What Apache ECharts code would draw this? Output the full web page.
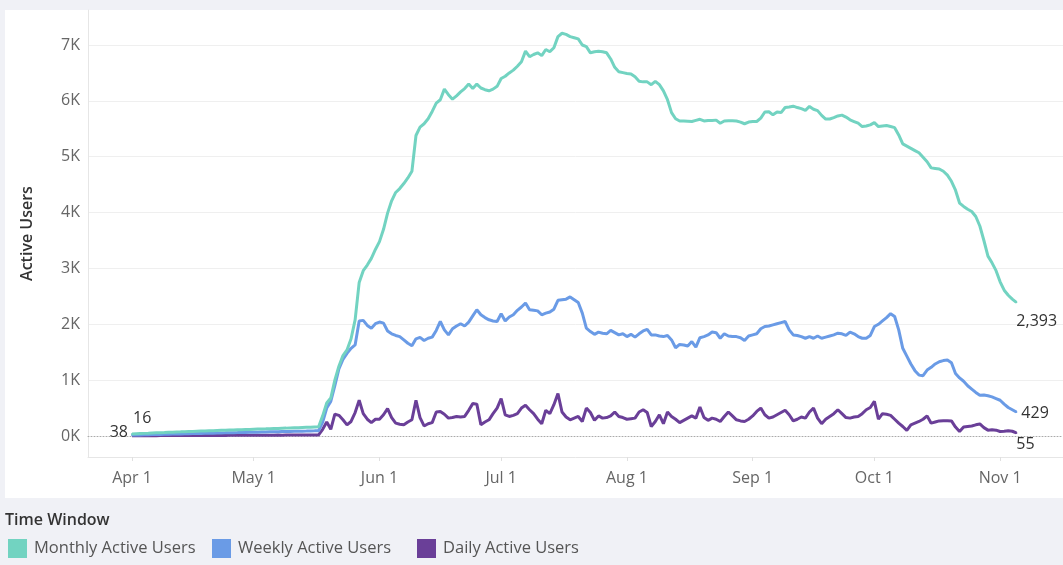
<!DOCTYPE html>
<html>
<head>
<meta charset="utf-8">
<title>Active Users</title>
<script src="https://cdn.jsdelivr.net/npm/echarts@6.0.0/dist/echarts.min.js"></script>
<style>
  html, body { margin: 0; padding: 0; background: #f0f1f6; }
  #chart { width: 1063px; height: 565px; }
</style>
</head>
<body>
<div id="chart"></div>
<script>
// x is the day number, 0 = Apr 1 ... 218 = Nov 5
const monthDays = [0, 30, 61, 91, 122, 153, 183, 214];
const monthLabels = ['Apr 1', 'May 1', 'Jun 1', 'Jul 1', 'Aug 1', 'Sep 1', 'Oct 1', 'Nov 1'];
const seriesNames = ['Monthly Active Users', 'Weekly Active Users', 'Daily Active Users'];

const monthly = [
  38, 41, 44, 47, 50, 54, 57, 59, 62, 66,
  69, 72, 74, 77, 80, 82, 85, 88, 90, 93,
  95, 98, 101, 103, 106, 108, 111, 114, 116, 118,
  121, 124, 126, 128, 131, 134, 136, 139, 141, 144,
  147, 149, 152, 155, 158, 162, 166,
  360, 590, 680, 1000, 1250, 1440, 1540, 1740, 2080, 2750,
  2960, 3060, 3180, 3340, 3480, 3700, 3990, 4210, 4360, 4430,
  4520, 4620, 4740, 5380, 5530, 5590, 5680, 5810, 5960, 6020,
  6210, 6110, 6030, 6090, 6160, 6220, 6300, 6220, 6300, 6230,
  6200, 6180, 6210, 6260, 6400, 6440, 6500, 6550, 6620, 6700,
  6890, 6790, 6830, 6860, 6810, 6920, 6880, 6950, 7150, 7210,
  7190, 7150, 7130, 7110, 7000, 6970, 6860, 6880, 6890, 6880,
  6860, 6750, 6600, 6520, 6505, 6490, 6480, 6430, 6350, 6340,
  6340, 6290, 6350, 6290, 6180, 6020, 5790, 5680, 5640, 5640,
  5635, 5630, 5650, 5670, 5640, 5650, 5650, 5655, 5600, 5640,
  5645, 5645, 5640, 5620, 5590, 5620, 5630, 5630, 5690, 5800,
  5805, 5750, 5800, 5790, 5880, 5890, 5905, 5880, 5860, 5830,
  5900, 5850, 5825, 5740, 5675, 5675, 5700, 5730, 5745, 5710,
  5660, 5630, 5600, 5540, 5550, 5570, 5610, 5540, 5550, 5560,
  5540, 5520, 5390, 5230, 5190, 5150, 5110, 5070, 4990, 4910,
  4800, 4790, 4780, 4740, 4670, 4560, 4400, 4170, 4110, 4060,
  4020, 3930, 3760, 3500, 3220, 3100, 2960, 2760, 2610, 2520,
  2450, 2393
];

const weekly = [
  16, 18, 20, 22, 24, 26, 27, 29, 31, 33,
  35, 36, 38, 40, 41, 43, 45, 46, 48, 50,
  51, 53, 55, 56, 58, 60, 61, 63, 64, 66,
  68, 69, 71, 72, 74, 76, 77, 79, 80, 82,
  84, 85, 87, 88, 90, 92, 95,
  250, 500, 620, 900, 1200, 1370, 1480, 1570, 1630, 2060,
  2070, 1980, 1930, 2010, 2040, 2020, 1880, 1830, 1800, 1780,
  1720, 1660, 1615, 1740, 1765, 1710, 1750, 1770, 1890, 2050,
  1900, 1810, 1920, 1970, 2010, 1970, 2040, 2150, 2260, 2170,
  2120, 2080, 2060, 2050, 2190, 2060, 2130, 2170, 2250, 2310,
  2380, 2260, 2250, 2240, 2170, 2200, 2220, 2270, 2430, 2440,
  2450, 2490, 2440, 2390, 2200, 1930, 1870, 1820, 1860, 1840,
  1830, 1890, 1850, 1810, 1830, 1780, 1820, 1770, 1830, 1880,
  1910, 1810, 1810, 1790, 1780, 1800, 1720, 1580, 1640, 1630,
  1610, 1690, 1590, 1760, 1780, 1810, 1860, 1850, 1750, 1830,
  1790, 1780, 1780, 1760, 1710, 1790, 1810, 1830, 1920, 1960,
  1970, 1990, 2010, 2030, 2050, 1900, 1810, 1800, 1780, 1750,
  1780, 1750, 1790, 1750, 1770, 1790, 1810, 1840, 1830, 1800,
  1860, 1830, 1780, 1750, 1750, 1800, 1960, 2000, 2060, 2120,
  2190, 2140, 1900, 1570, 1430, 1290, 1170, 1090, 1080, 1180,
  1230, 1290, 1330, 1350, 1360, 1310, 1120, 1040, 980, 900,
  840, 780, 730, 735, 720, 700, 670, 640, 570, 510,
  470, 429
];

const daily = [
  4, 5, 5, 6, 6, 7, 6, 7, 8, 7,
  8, 8, 9, 8, 9, 10, 9, 10, 11, 10,
  11, 11, 12, 11, 12, 13, 12, 13, 13, 14,
  13, 14, 15, 14, 15, 15, 16, 15, 16, 17,
  16, 17, 17, 18, 17, 18, 20,
  120, 250, 120, 390, 370, 290, 200, 260, 420, 640,
  400, 300, 240, 300, 300, 380, 490, 330, 230, 210,
  200, 250, 290, 640, 330, 180, 220, 240, 430, 440,
  390, 320, 330, 350, 340, 350, 460, 580, 570, 200,
  250, 290, 400, 500, 670, 380, 350, 370, 400, 500,
  550, 470, 400, 300, 220, 460, 400, 560, 760, 430,
  340, 290, 320, 350, 260, 500, 420, 280, 360, 320,
  330, 360, 430, 350, 330, 300, 310, 320, 430, 470,
  420, 170, 260, 380, 220, 430, 350, 300, 240, 280,
  320, 360, 320, 520, 330, 280, 320, 300, 260, 350,
  430, 360, 290, 270, 260, 300, 360, 440, 500, 380,
  320, 340, 380, 420, 460, 380, 270, 300, 340, 320,
  430, 500, 320, 220, 300, 350, 400, 470, 400, 330,
  320, 340, 350, 400, 470, 510, 620, 300, 400, 390,
  370, 300, 230, 170, 100, 200, 230, 260, 300, 360,
  230, 250, 270, 275, 275, 270, 160, 80, 160, 170,
  180, 200, 215, 150, 105, 110, 105, 80, 85, 95,
  85, 55
];

const colors = { monthly: '#72d3c1', weekly: '#6a9be6', daily: '#6a3f98' };
const font = '"Open Sans", "Noto Sans", sans-serif';
const xMin = -10.85;
const xMax = 229.5;
const last = monthly.length - 1;

const fmt = (p) => p.value[1].toLocaleString('en-US');

const makeLine = (name, values, color, z, marks) => ({
  name,
  type: 'line',
  xAxisIndex: 1,
  yAxisIndex: 1,
  z,
  clip: false,
  symbol: 'none',
  symbolSize: 2,
  lineStyle: { width: 3, color },
  itemStyle: { color },
  emphasis: { disabled: true },
  data: values.map((v, i) => {
    if (!marks[i]) return [i, v];
    return {
      value: [i, v],
      symbol: 'circle',
      label: Object.assign({
        show: true,
        formatter: fmt,
        color: '#333',
        fontSize: 16,
        fontFamily: font,
        distance: 0
      }, marks[i])
    };
  })
});

// tableau lays the legend out in equal columns, so one legend per column
const legendColumns = [8, 212, 417];
const legends = seriesNames.map((name, i) => ({
  left: legendColumns[i],
  top: 539,
  padding: 0,
  icon: 'rect',
  itemWidth: 19,
  itemHeight: 19,
  data: [name],
  textStyle: { fontSize: 16.5, color: '#555', fontFamily: font, padding: [0, 0, 0, 2] }
}));

const chart = echarts.init(document.getElementById('chart'));

chart.setOption({
  animation: false,
  backgroundColor: '#f0f1f6',
  textStyle: { fontFamily: font },
  graphic: [
    {
      type: 'rect',
      z: -100,
      shape: { x: 5, y: 10, width: 1060, height: 488 },
      style: { fill: '#ffffff' }
    },
    {
      type: 'text',
      left: 5,
      top: 512,
      style: { text: 'Time Window', fill: '#333', font: '600 16px ' + font }
    }
  ],
  legend: legends,
  grid: [
    { left: 88, right: 0, top: 10, bottom: 108 },
    { left: 88, right: 0, top: 45, bottom: 129 }
  ],
  xAxis: [
    {
      type: 'value',
      gridIndex: 0,
      min: xMin,
      max: xMax,
      axisLine: { show: true, onZero: false, lineStyle: { color: '#e6e6e6' } },
      axisTick: { show: true, customValues: monthDays, length: 4, lineStyle: { color: '#e0e0e0' } },
      axisLabel: {
        customValues: monthDays,
        formatter: (v) => monthLabels[monthDays.indexOf(v)],
        color: '#666',
        fontSize: 16,
        margin: 13
      },
      splitLine: { show: false }
    },
    {
      type: 'value',
      gridIndex: 1,
      min: xMin,
      max: xMax,
      axisLine: { show: true, onZero: true, lineStyle: { color: '#aaa', type: [1, 2], width: 1 } },
      axisTick: { show: false },
      axisLabel: { show: false },
      splitLine: { show: false }
    }
  ],
  yAxis: [
    {
      type: 'value',
      gridIndex: 0,
      name: 'Active Users',
      nameLocation: 'middle',
      nameGap: 53,
      nameTextStyle: { color: '#333', fontSize: 16, fontWeight: 600 },
      axisLine: { show: true, onZero: false, lineStyle: { color: '#e6e6e6' } },
      axisTick: { show: false },
      axisLabel: { show: false },
      splitLine: { show: false }
    },
    {
      type: 'value',
      gridIndex: 1,
      min: 0,
      max: 7000,
      interval: 1000,
      axisLine: { show: false },
      axisTick: { show: false },
      axisLabel: {
        formatter: (v) => v / 1000 + 'K',
        color: '#666',
        fontSize: 16,
        margin: 8
      },
      splitLine: { show: true, showMinLine: false, lineStyle: { color: '#efefef' } }
    }
  ],
  series: [
    makeLine(seriesNames[0], monthly, colors.monthly, 5, {
      0: { position: 'left', offset: [-3, -1] },
      [last]: { position: 'right', offset: [-1, 19] }
    }),
    makeLine(seriesNames[1], weekly, colors.weekly, 4, {
      0: { position: 'right', offset: [0, -17] },
      [last]: { position: 'right', offset: [4, 1] }
    }),
    makeLine(seriesNames[2], daily, colors.daily, 3, {
      [last]: { position: 'right', offset: [-1, 12] }
    })
  ]
});
</script>
</body>
</html>
